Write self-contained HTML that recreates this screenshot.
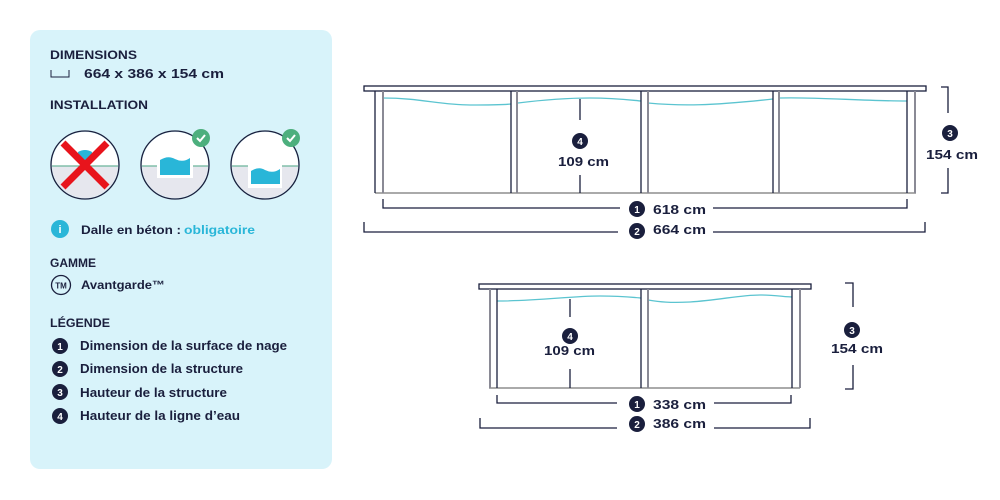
<!DOCTYPE html>
<html><head><meta charset="utf-8"><style>
html,body{margin:0;padding:0;background:#fff;}
svg{display:block;}
text{font-family:"Liberation Sans",sans-serif;font-weight:bold;fill:#1a1f3d;}
</style></head><body>
<svg width="1000" height="500" viewBox="0 0 1000 500" xmlns="http://www.w3.org/2000/svg">
<defs>
<clipPath id="c1"><circle cx="85" cy="165" r="33"/></clipPath>
<clipPath id="c2"><circle cx="175" cy="165" r="33"/></clipPath>
<clipPath id="c3"><circle cx="265" cy="165" r="33"/></clipPath>
</defs>
<rect x="30" y="30" width="302" height="439" rx="10" fill="#d8f3fa"/>
<text x="50" y="59" font-size="12" textLength="87" lengthAdjust="spacingAndGlyphs">DIMENSIONS</text>
<path d="M51 70 V77 H69 V70" fill="none" stroke="#1a1f3d" stroke-width="1"/>
<text x="84" y="78" font-size="13" textLength="140" lengthAdjust="spacingAndGlyphs">664 x 386 x 154 cm</text>
<text x="50" y="109" font-size="12" textLength="98" lengthAdjust="spacingAndGlyphs">INSTALLATION</text>

<g clip-path="url(#c1)">
<rect x="50" y="130" width="70" height="36" fill="#fff"/>
<rect x="50" y="166" width="70" height="36" fill="#e6e7ee"/>
<line x1="50" y1="166" x2="120" y2="166" stroke="#6bb59a" stroke-width="1.2"/>
<path d="M78 152 q7 -4 14 0 v10 h-14z" fill="#29b6d8"/>
</g>
<circle cx="85" cy="165" r="34" fill="none" stroke="#1a1f3d" stroke-width="1.3"/>
<path d="M63 143 L107 187 M107 143 L63 187" stroke="#e8141c" stroke-width="7"/>
<g clip-path="url(#c2)">
<rect x="140" y="130" width="70" height="36" fill="#fff"/>
<rect x="140" y="166" width="70" height="36" fill="#e6e7ee"/>
<line x1="140" y1="166" x2="210" y2="166" stroke="#6bb59a" stroke-width="1.2"/>
<rect x="157" y="159" width="36" height="19" fill="#fff"/>
<path d="M160 160 q8 -5 15 -1 q8 4 15 -1 v17 h-30z" fill="#29b6d8"/>
</g>
<circle cx="175" cy="165" r="34" fill="none" stroke="#1a1f3d" stroke-width="1.3"/>
<circle cx="201" cy="138" r="9" fill="#4caf7d"/>
<path d="M197 138 l3 3 l5 -6" fill="none" stroke="#fff" stroke-width="2"/>
<g clip-path="url(#c3)">
<rect x="230" y="130" width="70" height="36" fill="#fff"/>
<rect x="230" y="166" width="70" height="36" fill="#e6e7ee"/>
<line x1="230" y1="166" x2="300" y2="166" stroke="#6bb59a" stroke-width="1.2"/>
<rect x="248" y="165" width="34" height="23" fill="#fff"/>
<path d="M251 171 q8 -5 14 -1 q8 4 15 -1 v15 h-29z" fill="#29b6d8"/>
</g>
<circle cx="265" cy="165" r="34" fill="none" stroke="#1a1f3d" stroke-width="1.3"/>
<circle cx="291" cy="138" r="9" fill="#4caf7d"/>
<path d="M287 138 l3 3 l5 -6" fill="none" stroke="#fff" stroke-width="2"/>

<circle cx="60" cy="229" r="9" fill="#29b6d8"/>
<text x="60" y="233" font-size="11" text-anchor="middle" style="fill:#fff">i</text>
<text x="81" y="234" font-size="12" textLength="100" lengthAdjust="spacingAndGlyphs">Dalle en béton :</text>
<text x="184" y="234" font-size="12" textLength="71" lengthAdjust="spacingAndGlyphs" style="fill:#29b6d8">obligatoire</text>

<text x="50" y="267" font-size="12" textLength="46" lengthAdjust="spacingAndGlyphs">GAMME</text>
<circle cx="61" cy="285" r="9.5" fill="none" stroke="#1a1f3d" stroke-width="1.3"/>
<text x="61" y="288.5" font-size="8" text-anchor="middle">TM</text>
<text x="81" y="289" font-size="12" textLength="84" lengthAdjust="spacingAndGlyphs">Avantgarde™</text>

<text x="50" y="327" font-size="12" textLength="60" lengthAdjust="spacingAndGlyphs">LÉGENDE</text>
<g font-size="12.5">
<circle cx="60" cy="346" r="8" fill="#1a1f3d"/><text x="60" y="350" font-size="10" text-anchor="middle" style="fill:#fff">1</text>
<text x="80" y="350" textLength="207" lengthAdjust="spacingAndGlyphs">Dimension de la surface de nage</text>
<circle cx="60" cy="369" r="8" fill="#1a1f3d"/><text x="60" y="373" font-size="10" text-anchor="middle" style="fill:#fff">2</text>
<text x="80" y="373" textLength="163" lengthAdjust="spacingAndGlyphs">Dimension de la structure</text>
<circle cx="60" cy="392" r="8" fill="#1a1f3d"/><text x="60" y="396" font-size="10" text-anchor="middle" style="fill:#fff">3</text>
<text x="80" y="397" textLength="147" lengthAdjust="spacingAndGlyphs">Hauteur de la structure</text>
<circle cx="60" cy="416" r="8" fill="#1a1f3d"/><text x="60" y="420" font-size="10" text-anchor="middle" style="fill:#fff">4</text>
<text x="80" y="420" textLength="160" lengthAdjust="spacingAndGlyphs">Hauteur de la ligne d’eau</text>
</g>

<!-- BIG POOL -->
<g fill="none" stroke-width="1.3">
<rect x="364" y="86" width="562" height="5" stroke="#1a1f3d" fill="#fff"/>
<line x1="375" y1="193" x2="916" y2="193" stroke="#777"/>
<path d="M383 98 C420 98 440 105 470 105 C490 105 500 105 511 104 M518 103 C550 99 570 98 590 98 C615 98 630 100 641 101 M648 103 C680 106 710 106 773 99 M780 98 C820 97 860 101 907 101" stroke="#5bc4d0"/>
<g stroke="#1a1f3d"><line x1="375" y1="91" x2="375" y2="193"/><line x1="511" y1="91" x2="511" y2="193"/><line x1="641" y1="91" x2="641" y2="193"/><line x1="773" y1="91" x2="773" y2="193"/><line x1="907" y1="91" x2="907" y2="193"/></g>
<g stroke="#8a8a95" stroke-width="2"><line x1="383" y1="91" x2="383" y2="193"/><line x1="517" y1="91" x2="517" y2="193"/><line x1="648" y1="91" x2="648" y2="193"/><line x1="779" y1="91" x2="779" y2="193"/><line x1="915" y1="91" x2="915" y2="193"/></g>
<g stroke="#1a1f3d">
<path d="M383 199 V208 H620 M713 208 H907 V199"/>
<path d="M364 222 V232 H618 M713 232 H925 V222"/>
<path d="M941 87 H948 V113 M948 168 V193 H941"/>
<path d="M580 99 V120 M580 175 V193"/>
</g>
</g>
<circle cx="637" cy="209" r="8" fill="#1a1f3d"/><text x="637" y="213" font-size="10" text-anchor="middle" style="fill:#fff">1</text>
<text x="653" y="214" font-size="13" textLength="53" lengthAdjust="spacingAndGlyphs">618 cm</text>
<circle cx="637" cy="231" r="8" fill="#1a1f3d"/><text x="637" y="235" font-size="10" text-anchor="middle" style="fill:#fff">2</text>
<text x="653" y="234" font-size="13" textLength="53" lengthAdjust="spacingAndGlyphs">664 cm</text>
<circle cx="950" cy="133" r="8" fill="#1a1f3d"/><text x="950" y="137" font-size="10" text-anchor="middle" style="fill:#fff">3</text>
<text x="926" y="159" font-size="13" textLength="52" lengthAdjust="spacingAndGlyphs">154 cm</text>
<circle cx="580" cy="141" r="8" fill="#1a1f3d"/><text x="580" y="145" font-size="10" text-anchor="middle" style="fill:#fff">4</text>
<text x="558" y="166" font-size="13" textLength="51" lengthAdjust="spacingAndGlyphs">109 cm</text>

<!-- SMALL POOL -->
<g fill="none" stroke-width="1.3">
<rect x="479" y="284" width="332" height="5" stroke="#1a1f3d" fill="#fff"/>
<line x1="489" y1="388" x2="800" y2="388" stroke="#777"/>
<path d="M497 301 C540 301 570 296 600 296 C620 296 630 297 641 298 M648 300 C660 302 670 303 690 302 C720 300 740 295 760 295 C775 295 785 297 792 297" stroke="#5bc4d0"/>
<g stroke="#1a1f3d"><line x1="497" y1="289" x2="497" y2="388"/><line x1="641" y1="289" x2="641" y2="388"/><line x1="792" y1="289" x2="792" y2="388"/></g>
<g stroke="#8a8a95" stroke-width="2"><line x1="490" y1="289" x2="490" y2="388"/><line x1="648" y1="289" x2="648" y2="388"/><line x1="800" y1="289" x2="800" y2="388"/></g>
<g stroke="#1a1f3d">
<path d="M497 395 V403 H617 M714 403 H791 V395"/>
<path d="M480 418 V428 H617 M714 428 H810 V418"/>
<path d="M845 283 H853 V307 M853 365 V389 H845"/>
<path d="M570 299 V317 M570 369 V388"/>
</g>
</g>
<circle cx="637" cy="404" r="8" fill="#1a1f3d"/><text x="637" y="408" font-size="10" text-anchor="middle" style="fill:#fff">1</text>
<text x="653" y="409" font-size="13" textLength="53" lengthAdjust="spacingAndGlyphs">338 cm</text>
<circle cx="637" cy="424" r="8" fill="#1a1f3d"/><text x="637" y="428" font-size="10" text-anchor="middle" style="fill:#fff">2</text>
<text x="653" y="428" font-size="13" textLength="53" lengthAdjust="spacingAndGlyphs">386 cm</text>
<circle cx="852" cy="330" r="8" fill="#1a1f3d"/><text x="852" y="334" font-size="10" text-anchor="middle" style="fill:#fff">3</text>
<text x="831" y="353" font-size="13" textLength="52" lengthAdjust="spacingAndGlyphs">154 cm</text>
<circle cx="570" cy="336" r="8" fill="#1a1f3d"/><text x="570" y="340" font-size="10" text-anchor="middle" style="fill:#fff">4</text>
<text x="544" y="355" font-size="13" textLength="51" lengthAdjust="spacingAndGlyphs">109 cm</text>
</svg>
</body></html>
